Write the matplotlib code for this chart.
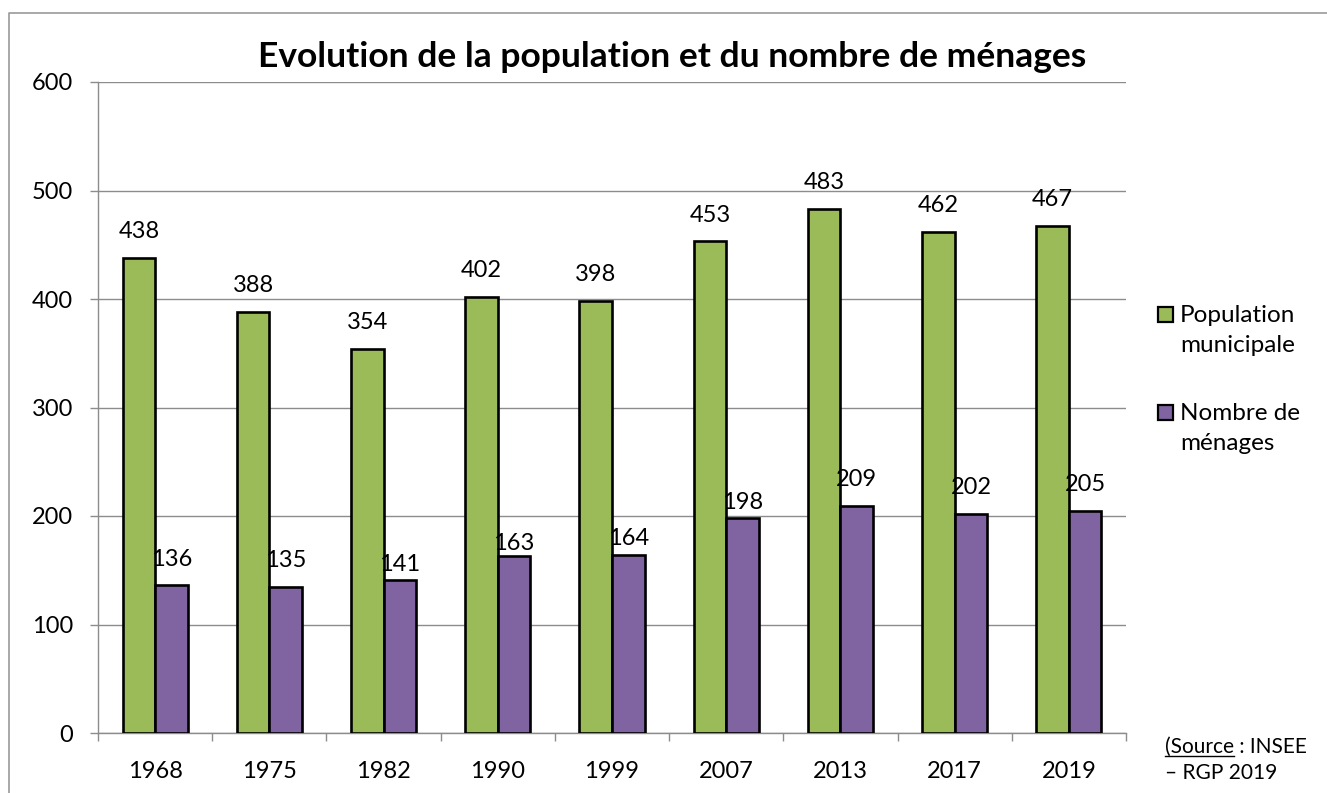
import matplotlib
matplotlib.use("Agg")
import matplotlib.pyplot as plt
from matplotlib.lines import Line2D
from matplotlib.patches import Rectangle
import numpy as np

years = ["1968", "1975", "1982", "1990", "1999", "2007", "2013", "2017", "2019"]
population = [438, 388, 354, 402, 398, 453, 483, 462, 467]
menages = [136, 135, 141, 163, 164, 198, 209, 202, 205]
series_names = ["Population\nmunicipale", "Nombre de\nménages"]
title = "Evolution de la population et du nombre de ménages"
source_1 = "(Source"
source_2 = " : INSEE"
source_3 = "– RGP 2019"

# label offsets (points) above bar tops (manual placement in the original)
pop_label_off = [19] * 9
men_label_off = [19, 19, 11, 9, 12, 11, 19, 19, 19]

GREEN = "#9BBB59"
PURPLE = "#8064A2"
GRID = "#8C8C8C"
FONT = "Lato"

plt.rcParams["font.family"] = [FONT, "DejaVu Sans"]

W, H = 1327, 793
fig = plt.figure(figsize=(W / 100, H / 100), dpi=100)

def fx(px):
    return px / W

def fy(py):
    return 1 - py / H

ax = fig.add_axes([fx(98), fy(733), fx(1126) - fx(98), fy(82) - fy(733)])

x = np.arange(len(years))
bw = 0.285
ax.bar(x - bw / 2, population, bw, color=GREEN, edgecolor="black", linewidth=1.9, zorder=3)
ax.bar(x + bw / 2, menages, bw, color=PURPLE, edgecolor="black", linewidth=1.9, zorder=3)

for xi, v, off in zip(x, population, pop_label_off):
    ax.annotate(str(v), (xi - bw / 2, v), xytext=(0, off), textcoords="offset points",
                ha="center", va="center", fontsize=17, zorder=4)
for xi, v, off in zip(x, menages, men_label_off):
    ax.annotate(str(v), (xi + bw / 2, v), xytext=(0, off), textcoords="offset points",
                ha="center", va="center", fontsize=17, zorder=4)

ax.set_xlim(-0.5, len(years) - 0.5)
ax.set_ylim(0, 600)
ax.set_yticks(np.arange(0, 601, 100))
ax.set_xticks(x)
ax.set_xticklabels(years)
ax.set_xticks(np.arange(-0.5, len(years), 1.0), minor=True)
ax.tick_params(axis="x", which="major", length=0, pad=20, labelsize=17)
ax.tick_params(axis="x", which="minor", length=6, width=1.0, color=GRID, direction="out")
ax.tick_params(axis="y", length=6, width=1.0, color=GRID, direction="out", pad=12, labelsize=17)
ax.yaxis.grid(True, color=GRID, linewidth=1.0, zorder=0)
ax.set_axisbelow(True)
for s in ["top", "right"]:
    ax.spines[s].set_visible(False)
for s in ["left", "bottom"]:
    ax.spines[s].set_color(GRID)
    ax.spines[s].set_linewidth(1.0)

fig.text(fx(672), fy(57), title, ha="center", va="center", fontsize=25.5, fontweight="bold")

# legend (marker aligned with the first line of each label, as in the original)
for name, col, ymid in zip(series_names, [GREEN, PURPLE], [314, 412]):
    fig.add_artist(Rectangle((fx(1158), fy(ymid + 7.5)), fx(15), 15 / H,
                             facecolor=col, edgecolor="black", linewidth=1.6,
                             transform=fig.transFigure))
    fig.text(fx(1180), fy(ymid - 9), name, ha="left", va="top", fontsize=17.5,
             linespacing=1.52)

# source
t1 = fig.text(fx(1165), fy(747), source_1, ha="left", va="center", fontsize=15)
fig.canvas.draw()
r = fig.canvas.get_renderer()
bb = t1.get_window_extent(r)
fig.text(bb.x1 / W, fy(747), source_2, ha="left", va="center", fontsize=15)
fig.add_artist(Line2D([bb.x0 / W, bb.x1 / W], [(bb.y0 + 1) / H] * 2,
                      color="black", linewidth=1.0, transform=fig.transFigure))
fig.text(fx(1165), fy(773), source_3, ha="left", va="center", fontsize=15)

# outer chart border (left and top)
fig.add_artist(Line2D([fx(8.5), fx(8.5), fx(1330)], [fy(800), fy(12.5), fy(12.5)],
                      color="#9A9A9A", linewidth=1.2, transform=fig.transFigure))

fig.savefig("out.png", dpi=100)
